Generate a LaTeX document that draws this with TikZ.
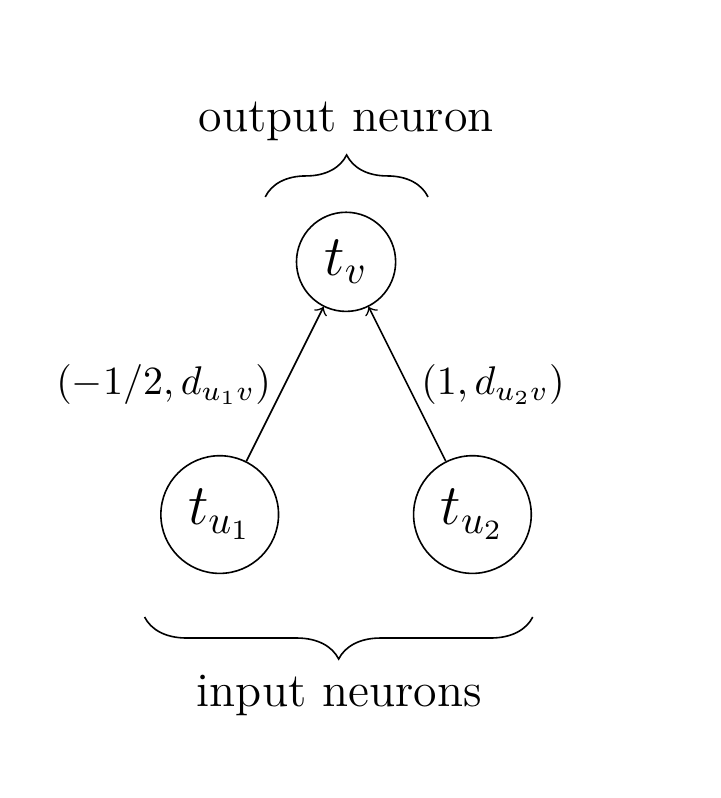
\documentclass[tikz,border=0pt]{standalone}
\usepackage{amsmath}
\usetikzlibrary{arrows}
\usetikzlibrary{decorations.pathreplacing}

\tikzset{neuron/.style={draw, circle, inner sep=3.3pt, font=\Large}}

\begin{document}
\begin{tikzpicture}[scale=1]
\def\W{6.33}
\def\H{7.01}
\def\amp{10.5pt}

\useasboundingbox (0,0) rectangle (\W,-\H);

%Neurons:
\node[neuron] (tv) at (3.04,-2.30) {$t_v$};
\node[neuron] (tu1) at (1.93,-4.52) {$t_{u_1}$};
\node[neuron] (tu2) at (4.15,-4.52) {$t_{u_2}$};

%Connections:
\draw[->] (tu1) -- (tv) node[midway,left]{$(-1/2,d_{u_1v})$};
\draw[->] (tu2) -- (tv) node[midway,right]{$(1,d_{u_2v})$};

%Braces:
\coordinate (BL) at (2.33,-1.73);
\coordinate (BR) at (3.76,-1.73);
\draw[decorate,decoration={brace,amplitude=\amp}] (BL) -- (BR);
\node[font=\large] (out) at (3.04,-1.07) {output neuron};

\coordinate (CL) at (1.27,-5.42);
\coordinate (CR) at (4.68,-5.42);
\draw[decorate,decoration={brace,mirror,amplitude=\amp}] (CL) -- (CR);
\node[font=\large] (in) at (2.98,-6.11) {input neurons};

\end{tikzpicture}
\end{document}
